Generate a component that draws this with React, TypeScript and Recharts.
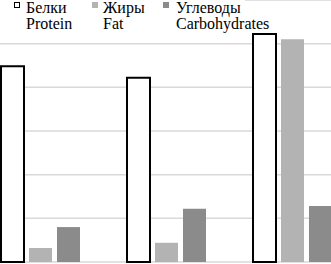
import { Bar, BarChart, CartesianGrid, XAxis, YAxis } from "recharts";

const categories = ["1", "2", "3"];
const protein = [22.4, 21.1, 26.1];
const fat = [1.6, 2.2, 25.5];
const carbs = [4.0, 6.1, 6.4];
const yTicks = [0, 5, 10, 15, 20, 25, 30];

const series = [
    { key: "protein", ru: "Белки", en: "Protein", fill: "#ffffff", stroke: "#000000" },
    { key: "fat", ru: "Жиры", en: "Fat", fill: "#b3b3b3", stroke: "none" },
    { key: "carbs", ru: "Углеводы", en: "Carbohydrates", fill: "#8b8b8b", stroke: "none" },
];

const data = categories.map((name, i) => ({
    name,
    protein: protein[i],
    fat: fat[i],
    carbs: carbs[i],
}));

const legendPos = [
    { sq: 14, text: 26 },
    { sq: 92, text: 103 },
    { sq: 163, text: 176 },
];

export default function App() {
    return (
        <div
            style={{
                position: "fixed",
                left: 0,
                top: 0,
                width: 331,
                height: 264,
                overflow: "hidden",
                background: "#fff",
            }}
        >
            <div style={{ position: "absolute", left: -23, top: 0 }}>
                <BarChart
                    width={378}
                    height={264}
                    data={data}
                    margin={{ top: 0, right: 0, left: 0, bottom: 2 }}
                    barSize={23}
                    barGap={5}
                >
                    <CartesianGrid vertical={false} stroke="#d9d9d9" strokeWidth={1.5} />
                    <XAxis dataKey="name" hide />
                    <YAxis hide domain={[0, 30]} ticks={yTicks} />
                    <Bar dataKey="protein" fill="#ffffff" stroke="#000000" strokeWidth={2} isAnimationActive={false} />
                    <Bar dataKey="fat" fill="#b3b3b3" isAnimationActive={false} />
                    <Bar dataKey="carbs" fill="#8b8b8b" isAnimationActive={false} />
                </BarChart>
            </div>
            <div
                style={{
                    position: "absolute",
                    left: 0,
                    top: 0,
                    width: 245,
                    height: 32,
                    background: "#fff",
                    fontFamily: "Liberation Serif, DejaVu Serif, serif",
                    fontSize: 16,
                    lineHeight: "16.3px",
                    color: "#000",
                }}
            >
                {series.map((s, i) => (
                    <div key={s.key}>
                        <div
                            style={{
                                position: "absolute",
                                left: legendPos[i].sq,
                                top: 2,
                                width: 6,
                                height: 6,
                                boxSizing: "border-box",
                                background: s.fill,
                                border: s.stroke === "none" ? "none" : "1.5px solid " + s.stroke,
                            }}
                        />
                        <div style={{ position: "absolute", left: legendPos[i].text, top: 0, whiteSpace: "nowrap" }}>
                            {s.ru}
                            <br />
                            {s.en}
                        </div>
                    </div>
                ))}
            </div>
        </div>
    );
}
